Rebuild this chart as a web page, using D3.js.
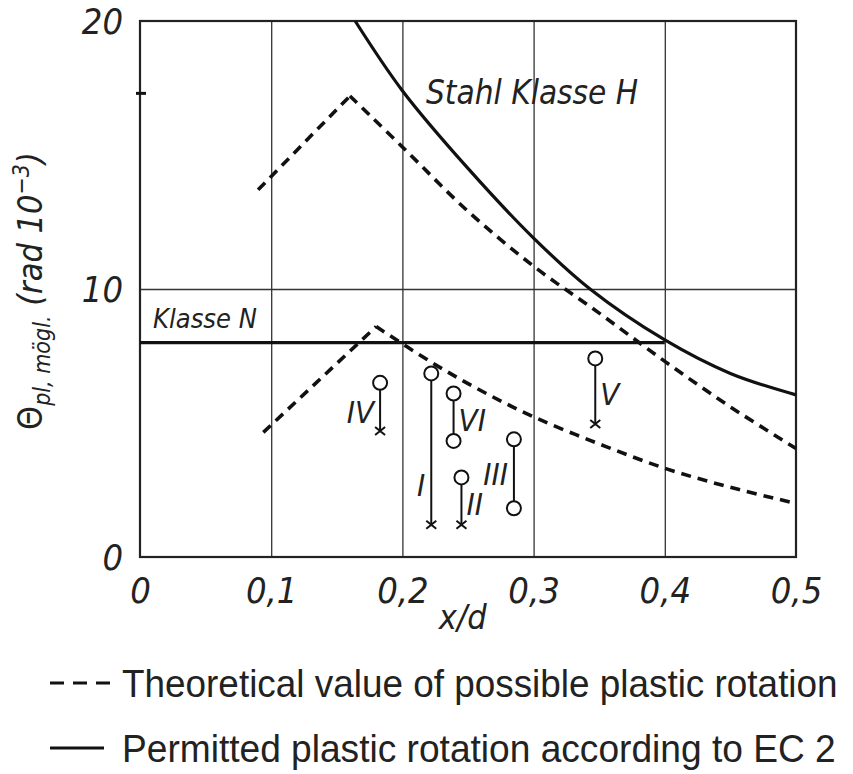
<!DOCTYPE html>
<html>
<head>
<meta charset="utf-8">
<script src="https://cdn.jsdelivr.net/npm/d3@7"></script>
<style>
  body { margin: 0; background: #fff; }
  svg { display: block; }
  .chart text { font-family: "Liberation Sans Narrow", "Arial Narrow", "DejaVu Sans Condensed", sans-serif; fill: #222; }
</style>
</head>
<body>
<div id="chart"></div>
<script>
// x/d ticks and theta ticks
const xTicks = [0, 0.1, 0.2, 0.3, 0.4, 0.5];
const yTicks = [0, 10, 20];

// theoretical value (dashed), upper branch
const upperX = [0.09, 0.16, 0.2, 0.25, 0.3, 0.35, 0.4, 0.45, 0.5];
const upperTheta = [13.7, 17.2, 15.3, 12.9, 10.85, 9.1, 7.3, 5.6, 4.05];
// theoretical value (dashed), lower branch
const lowerX = [0.094, 0.18, 0.221, 0.259, 0.3, 0.35, 0.4, 0.45, 0.5];
const lowerTheta = [4.65, 8.6, 7.3, 6.23, 5.23, 4.22, 3.31, 2.6, 2.0];

// EC 2 permitted values (solid)
const classHX = [0.164, 0.2, 0.25, 0.3, 0.343, 0.4, 0.45, 0.5];
const classHTheta = [20, 17.4, 14.5, 11.9, 10.0, 8.1, 6.85, 6.05];
const classNX = [0, 0.4];
const classNTheta = [8.0, 8.0];

// test specimens
const specNames = ["I", "II", "III", "IV", "V", "VI"];
const specX = [0.222, 0.245, 0.285, 0.183, 0.347, 0.239];
const specTop = [6.85, 2.97, 4.39, 6.5, 7.41, 6.1];
const specBottom = [1.2, 1.2, 1.82, 4.7, 4.96, 4.33];
const specEnd = ["x", "x", "o", "x", "x", "o"];
const specLabelAt = [2.7, 2.0, 3.1, 5.4, 6.1, 5.1];
const specLabelSide = ["left", "right", "left", "left", "right", "right"];

const legendLabels = [
  "Theoretical value of possible plastic rotation",
  "Permitted plastic rotation according to EC 2"
];

const width = 853, height = 774;
const margin = { top: 21, right: 57, bottom: 217, left: 140 };
const chartWidth = width - margin.left - margin.right;
const chartHeight = height - margin.top - margin.bottom;

const svg = d3.select("#chart")
  .append("svg")
  .attr("class", "chart")
  .attr("width", width)
  .attr("height", height);

const g = svg.append("g")
  .attr("transform", `translate(${margin.left}, ${margin.top})`);

const xScale = d3.scaleLinear().domain([0, 0.5]).range([0, chartWidth]);
const yScale = d3.scaleLinear().domain([0, 20]).range([chartHeight, 0]);

// grid
const xGrid = d3.axisBottom(xScale).tickValues(xTicks.slice(1, -1)).tickSize(-chartHeight).tickFormat("");
const yGrid = d3.axisLeft(yScale).tickValues([10]).tickSize(-chartWidth).tickFormat("");
g.append("g").attr("transform", `translate(0,${chartHeight})`).call(xGrid)
  .call(s => s.select(".domain").remove())
  .selectAll("line").attr("stroke", "#333").attr("stroke-width", 1.3);
g.append("g").call(yGrid)
  .call(s => s.select(".domain").remove())
  .selectAll("line").attr("stroke", "#333").attr("stroke-width", 1.3);

// frame
g.append("rect")
  .attr("width", chartWidth).attr("height", chartHeight)
  .attr("fill", "none").attr("stroke", "#222").attr("stroke-width", 2.2);

// tick labels
const xAxis = d3.axisBottom(xScale).tickValues(xTicks).tickSize(0).tickPadding(20)
  .tickFormat(d => String(d).replace(".", ","));
g.append("g").attr("transform", `translate(0,${chartHeight})`).call(xAxis)
  .call(s => s.select(".domain").remove())
  .selectAll("text")
  .attr("font-size", 36).attr("font-style", "italic")
  .attr("fill", "#222");

const yAxis = d3.axisLeft(yScale).tickValues(yTicks).tickSize(0).tickPadding(17);
g.append("g").call(yAxis)
  .call(s => s.select(".domain").remove())
  .selectAll("text")
  .attr("font-size", 36).attr("font-style", "italic")
  .attr("fill", "#222").attr("dy", "0.36em");

// small mark on the left edge
g.append("line")
  .attr("x1", -4).attr("x2", 6)
  .attr("y1", yScale(17.3)).attr("y2", yScale(17.3))
  .attr("stroke", "#111").attr("stroke-width", 3);

// axis titles
g.append("text")
  .attr("x", xScale(0.246)).attr("y", chartHeight + 72)
  .attr("text-anchor", "middle")
  .attr("font-size", 34).attr("font-style", "italic")
  .text("x/d");

const yTitle = svg.append("text")
  .attr("transform", `translate(42, 291) rotate(-90)`)
  .attr("text-anchor", "middle")
  .attr("font-size", 34);
yTitle.append("tspan").text("Θ");
yTitle.append("tspan").attr("font-size", 23).attr("font-style", "italic").attr("dy", 8).text("pl, mögl.");
yTitle.append("tspan").attr("font-style", "italic").attr("dy", -8).text(" (rad 10");
yTitle.append("tspan").attr("font-size", 23).attr("font-style", "italic").attr("dy", -13).text("−3");
yTitle.append("tspan").attr("font-style", "italic").attr("dy", 13).text(")");

// lines
const toPts = (xs, ys) => xs.map((x, i) => [xScale(x), yScale(ys[i])]);
const smooth = d3.line().curve(d3.curveCatmullRom.alpha(0.5));
const straight = d3.line();

const dashStyle = s => s.attr("fill", "none").attr("stroke", "#111")
  .attr("stroke-width", 3.6).attr("stroke-dasharray", "10,7");
const solidStyle = s => s.attr("fill", "none").attr("stroke", "#111").attr("stroke-width", 3.2);

[[upperX, upperTheta], [lowerX, lowerTheta]].forEach(([xs, ys]) => {
  const pts = toPts(xs, ys);
  // rising part is straight, falling part is a smooth curve
  g.append("path").attr("d", straight(pts.slice(0, 2))).call(dashStyle);
  g.append("path").attr("d", smooth(pts.slice(1))).call(dashStyle);
});

g.append("path").attr("d", smooth(toPts(classHX, classHTheta))).call(solidStyle);
g.append("path").attr("d", straight(toPts(classNX, classNTheta))).call(solidStyle);

// curve labels
g.append("text")
  .attr("x", xScale(0.218)).attr("y", yScale(16.9))
  .attr("font-size", 33).attr("font-style", "italic")
  .text("Stahl Klasse H");
g.append("text")
  .attr("x", xScale(0.01)).attr("y", yScale(8.55))
  .attr("font-size", 27).attr("font-style", "italic")
  .text("Klasse N");

// specimens
const spec = g.append("g").selectAll("g")
  .data(specNames.map((n, i) => i))
  .enter().append("g");

spec.append("line")
  .attr("x1", i => xScale(specX[i])).attr("x2", i => xScale(specX[i]))
  .attr("y1", i => yScale(specTop[i]))
  .attr("y2", i => yScale(specBottom[i]))
  .attr("stroke", "#111").attr("stroke-width", 2);

spec.filter(i => specEnd[i] === "x").append("path")
  .attr("d", i => {
    const cx = xScale(specX[i]), cy = yScale(specBottom[i]);
    return `M${cx - 5},${cy - 4}L${cx + 5},${cy + 4}M${cx - 5},${cy + 4}L${cx + 5},${cy - 4}`;
  })
  .attr("stroke", "#111").attr("stroke-width", 2);

spec.append("circle")
  .attr("cx", i => xScale(specX[i])).attr("cy", i => yScale(specTop[i]))
  .attr("r", 7).attr("fill", "#fff").attr("stroke", "#111").attr("stroke-width", 2);

spec.filter(i => specEnd[i] === "o").append("circle")
  .attr("cx", i => xScale(specX[i])).attr("cy", i => yScale(specBottom[i]))
  .attr("r", 7).attr("fill", "#fff").attr("stroke", "#111").attr("stroke-width", 2);

spec.append("text")
  .attr("x", i => xScale(specX[i]) + (specLabelSide[i] === "left" ? -6 : 5))
  .attr("y", i => yScale(specLabelAt[i]))
  .attr("dy", "0.36em")
  .attr("text-anchor", i => specLabelSide[i] === "left" ? "end" : "start")
  .attr("font-size", 31).attr("font-style", "italic")
  .text(i => specNames[i]);

// legend
const legend = svg.append("g");
legendLabels.forEach((label, i) => {
  const y = [683, 748][i];
  legend.append("line")
    .attr("x1", 50).attr("x2", i === 0 ? 110 : 104)
    .attr("y1", y).attr("y2", y)
    .attr("stroke", "#111").attr("stroke-width", 3)
    .attr("stroke-dasharray", i === 0 ? "14,9" : null);
  const t = legend.append("text")
    .attr("font-size", 38)
    .style("font-family", "'Liberation Sans', Arial, sans-serif")
    .text(label);
  // squeeze the text to the narrow width of the original
  const len = t.node().getComputedTextLength();
  const target = i === 0 ? 716 : 714;
  t.attr("transform", `translate(122, ${y + 14}) scale(${target / len}, 1)`);
});
</script>
</body>
</html>
